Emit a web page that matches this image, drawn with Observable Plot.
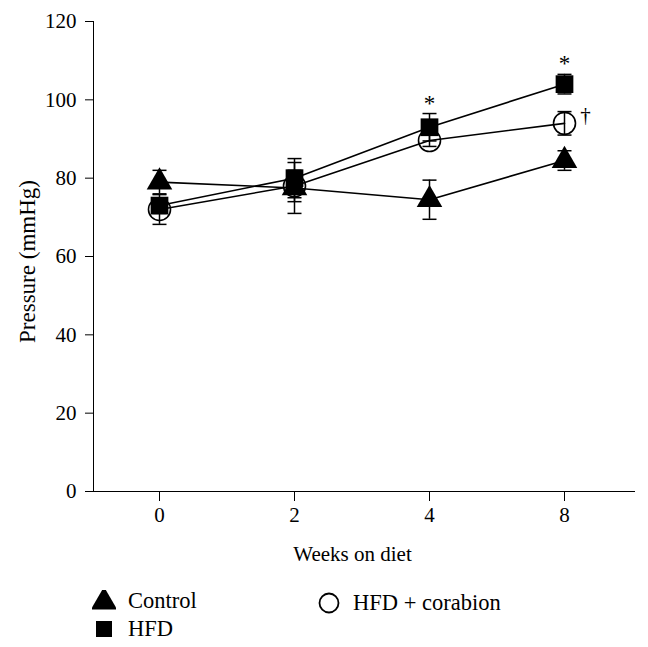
<!DOCTYPE html>
<html><head><meta charset="utf-8">
<script src="https://cdn.jsdelivr.net/npm/d3@7"></script>
<script src="https://cdn.jsdelivr.net/npm/@observablehq/plot@0.6"></script>
<style>
body{margin:0;background:#fff;font-family:"Liberation Serif",serif;color:#000;}
#wrap{position:relative;width:648px;}
#legend{position:relative;width:648px;height:72px;font-size:22.5px;}
.item{position:absolute;display:flex;align-items:center;white-space:nowrap;height:26px;}
.item svg{margin-right:12px;}
</style></head><body>
<div id="wrap"><div id="chart"></div><div id="legend"></div></div>
<script>
const weeks = ["0", "2", "4", "8"];
const controlMean = [79, 77.5, 74.5, 84.5];
const controlErr = [3, 6.5, 5, 2.5];
const hfdMean = [73, 80, 93, 104];
const hfdErr = [2, 5, 3.5, 2.5];
const corabionMean = [72, 78, 89.6, 94];
const corabionErr = [3.8, 4, 1.5, 3];
const yTicks = [0, 20, 40, 60, 80, 100, 120];
const seriesNames = ["Control", "HFD", "HFD + corabion"];
const annotations = [
  {group: "HFD", week: "4", label: "*"},
  {group: "HFD", week: "8", label: "*"},
  {group: "HFD + corabion", week: "8", label: "†"}
];

const seriesData = [
  {name: seriesNames[0], mean: controlMean, err: controlErr},
  {name: seriesNames[1], mean: hfdMean, err: hfdErr},
  {name: seriesNames[2], mean: corabionMean, err: corabionErr}
];
const rows = seriesData.flatMap(s => weeks.map((w, i) => ({group: s.name, week: w, mean: s.mean[i], err: s.err[i]})));
const bySeries = name => rows.filter(d => d.group === name);
const find = (g, w) => rows.find(d => d.group === g && d.week === w);
const ann = annotations.map(a => {
  const r = find(a.group, a.week);
  return {...a, y: a.label === "*" ? r.mean + r.err : r.mean};
});

// horizontal cap symbol for error bars
const capSymbol = {draw(context) { context.moveTo(-7, 0); context.lineTo(7, 0); }};

const chart = Plot.plot({
  width: 648,
  height: 575,
  marginLeft: 93,
  marginRight: 13,
  marginTop: 21,
  marginBottom: 84,
  style: {fontFamily: "'Liberation Serif', serif", fontSize: "21px", color: "black", background: "white"},
  x: {type: "point", domain: weeks, range: [158, 564], padding: 0, tickSize: 10, tickPadding: 6, label: null},
  y: {domain: [0, 120], ticks: yTicks, tickSize: 8, tickPadding: 9, label: null, line: true},
  marks: [
    Plot.ruleY([0], {strokeWidth: 1.2}),
    Plot.line(rows, {x: "week", y: "mean", z: "group", stroke: "black", strokeWidth: 1.6}),
    Plot.ruleX(rows, {x: "week", y1: d => d.mean - d.err, y2: d => d.mean + d.err, stroke: "black", strokeWidth: 1.5}),
    Plot.dot(rows, {x: "week", y: d => d.mean + d.err, symbol: capSymbol, r: 5, fill: "none", stroke: "black", strokeWidth: 1.5}),
    Plot.dot(rows, {x: "week", y: d => d.mean - d.err, symbol: capSymbol, r: 5, fill: "none", stroke: "black", strokeWidth: 1.5}),
    Plot.dot(bySeries(seriesNames[2]), {x: "week", y: "mean", r: 11, symbol: "circle", fill: "none", stroke: "black", strokeWidth: 1.6}),
    Plot.dot(bySeries(seriesNames[0]), {x: "week", y: "mean", r: 9.5, symbol: "triangle", fill: "black", stroke: "none"}),
    Plot.dot(bySeries(seriesNames[1]), {x: "week", y: "mean", r: 10, symbol: "square", fill: "black", stroke: "none"}),
    Plot.text(ann.filter(a => a.label === "*"), {x: "week", y: "y", text: "label", dy: -3, lineAnchor: "bottom", fontSize: 23}),
    Plot.text(ann.filter(a => a.label !== "*"), {x: "week", y: "y", text: "label", dx: 21, dy: -8, lineAnchor: "middle", fontSize: 21}),
    Plot.text(["Pressure (mmHg)"], {frameAnchor: "left", rotate: -90, dx: -66, dy: 5, text: d => d, fontSize: 23, textAnchor: "middle", lineAnchor: "middle"}),
    Plot.text(["Weeks on diet"], {frameAnchor: "bottom", dx: -12, dy: 69, text: d => d, fontSize: 21, lineAnchor: "bottom"})
  ]
});
document.getElementById("chart").appendChild(chart);

// legend below the chart
const legend = document.getElementById("legend");
const symbols = {
  "Control": '<svg width="24" height="22" viewBox="-12 -12 24 22"><path d="' + d3.symbol(d3.symbolTriangle, 300)() + '" fill="black"/></svg>',
  "HFD": '<svg width="24" height="22" viewBox="-12 -11 24 22"><rect x="-8" y="-8" width="16" height="16" fill="black"/></svg>',
  "HFD + corabion": '<svg width="24" height="24" viewBox="-12 -12 24 24"><circle r="9.5" fill="none" stroke="black" stroke-width="1.8"/></svg>'
};
const legendPos = {
  "Control": {left: 92, top: 13},
  "HFD": {left: 92, top: 41},
  "HFD + corabion": {left: 317, top: 15}
};
seriesNames.forEach(n => {
  const el = document.createElement("div");
  el.className = "item";
  el.style.left = legendPos[n].left + "px";
  el.style.top = legendPos[n].top + "px";
  el.innerHTML = symbols[n] + "<span>" + n + "</span>";
  legend.appendChild(el);
});
</script>
</body></html>
